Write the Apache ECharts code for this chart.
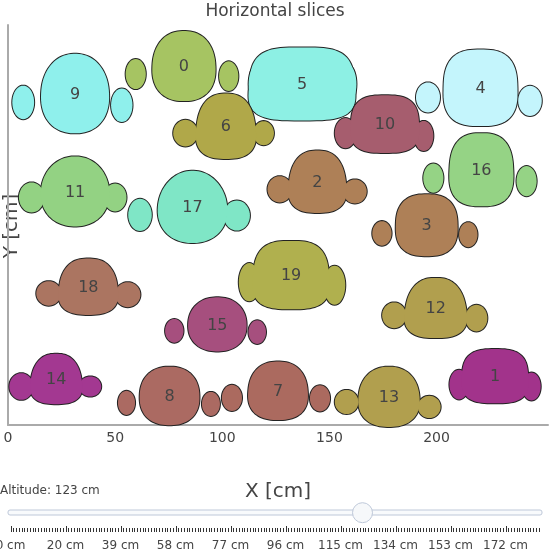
<!DOCTYPE html>
<html>
<head>
<meta charset="utf-8">
<script src="https://cdn.jsdelivr.net/npm/echarts@6/dist/echarts.min.js"></script>
<style>
  html, body { margin: 0; padding: 0; background: #fff; }
  #chart { width: 550px; height: 550px; }
</style>
</head>
<body>
<div id="chart"></div>
<script>
// slice number shown inside each body
var sliceIds   = [0, 1, 2, 3, 4, 5, 6, 7, 8, 9, 10, 11, 12, 13, 14, 15, 16, 17, 18, 19];
// centre and half sizes of the main body of each slice [cm]
var centerX    = [82.1, 227.3, 144.4, 195.4, 220.5, 137.2, 101.7, 126.0, 75.4, 31.3, 175.9, 31.3, 199.6, 177.8, 22.5, 97.7, 220.9, 86.1, 37.5, 132.1];
var centerY    = [166.9, 22.7, 113.1, 92.9, 156.8, 158.6, 138.9, 15.9, 13.5, 154.1, 139.9, 108.6, 54.4, 13.1, 21.4, 46.8, 118.7, 101.4, 64.3, 69.7];
var halfW      = [15.5, 16.3, 15.2, 14.8, 17.7, 26.2, 15.7, 15.0, 14.3, 16.7, 16.8, 16.8, 16.7, 15.4, 13.9, 14.0, 15.7, 17.5, 15.6, 19.2];
var halfH      = [16.3, 12.6, 14.5, 14.4, 17.8, 17.0, 15.2, 13.6, 13.6, 18.5, 13.4, 16.3, 14.0, 14.0, 11.7, 12.6, 17.0, 16.8, 13.1, 15.9];
var squareness = [2.3, 3.0, 2.6, 2.6, 2.8, 3.4, 2.6, 2.4, 2.3, 2.2, 3.0, 2.1, 2.6, 2.3, 2.6, 2.2, 2.7, 2.1, 2.6, 3.0];
var topTaper   = [0.1, 0.1, 0.25, 0.05, 0.05, 0.12, 0.25, 0.15, 0.05, 0.1, 0.1, 0.1, 0.3, 0.15, 0.3, 0.05, 0.1, 0.15, 0.25, 0.15];
// side lobes (centre and radii) [cm]
var leftLobeX  = [59.6, 210.5, 126.8, 174.5, 196.0, 116.5, 82.8, 104.5, 55.3, 7.1, 157.5, 11.0, 180.2, 158.0, 6.2, 77.6, 198.5, 61.6, 19.0, 112.6];
var leftLobeY  = [163.2, 18.8, 109.6, 89.1, 152.3, 158.5, 135.7, 12.6, 10.3, 150.0, 135.7, 105.8, 51.0, 10.7, 17.9, 43.8, 114.8, 97.7, 61.2, 66.4];
var leftLobeRx = [4.7, 4.5, 5.7, 4.5, 5.6, 4.2, 5.7, 4.7, 4.0, 5.1, 5.0, 5.9, 5.6, 5.5, 5.6, 4.3, 4.7, 5.5, 5.8, 4.9];
var leftLobeRy = [7.0, 6.9, 6.1, 5.7, 7.0, 9.3, 6.2, 6.1, 5.6, 7.8, 7.0, 7.0, 6.0, 5.6, 6.2, 5.5, 6.8, 7.5, 5.7, 8.9];
var rightLobeX  = [103.0, 244.3, 161.9, 214.8, 243.6, 158.4, 119.3, 145.6, 94.7, 53.1, 194.0, 50.0, 218.6, 196.6, 38.4, 116.3, 242.0, 106.8, 55.9, 152.4];
var rightLobeY  = [162.2, 17.9, 108.6, 88.5, 150.7, 158.5, 135.7, 12.4, 9.8, 148.7, 134.4, 105.8, 49.7, 8.4, 17.9, 43.2, 113.4, 97.4, 60.6, 65.0];
var rightLobeRx = [4.5, 4.3, 5.5, 4.3, 5.5, 4.2, 4.8, 4.7, 4.2, 5.0, 4.5, 5.3, 5.1, 5.3, 5.1, 4.1, 4.7, 6.1, 5.9, 5.0];
var rightLobeRy = [6.9, 6.5, 5.6, 5.8, 7.0, 9.3, 5.6, 6.1, 5.6, 7.8, 7.0, 6.5, 6.2, 5.2, 4.7, 5.5, 7.0, 7.0, 5.8, 9.1];
var sliceColors = ['#a6c462', '#a2338b', '#ae8057', '#ae8057', '#c4f5fc', '#8df0e4', '#b0a849', '#ab6a5f', '#ab6a62', '#8ff0ec',
                   '#a65d6e', '#93d283', '#b19f4e', '#b19f4e', '#a33891', '#a64f7e', '#95d385', '#7fe6c6', '#ab7561', '#b0b04e'];

// slider
var altitudeLabels = ['0 cm', '20 cm', '39 cm', '58 cm', '77 cm', '96 cm', '115 cm', '134 cm', '153 cm', '172 cm'];
var altitudeText = 'Altitude: 123 cm';
var sliderSteps = 193;
var sliderActive = 128;

var rows = [];
for (var i = 0; i < sliceIds.length; i++) {
  rows.push([sliceIds[i], centerX[i], centerY[i], halfW[i], halfH[i], squareness[i], topTaper[i],
    leftLobeX[i], leftLobeY[i], leftLobeRx[i], leftLobeRy[i],
    rightLobeX[i], rightLobeY[i], rightLobeRx[i], rightLobeRy[i]]);
}

function outline(api, cx, cy, a, b, n, taper, count) {
  var pts = [];
  for (var k = 0; k < count; k++) {
    var t = 2 * Math.PI * k / count;
    var c = Math.cos(t), s = Math.sin(t);
    var x = Math.sign(c) * Math.pow(Math.abs(c), 2 / n);
    var y = Math.sign(s) * Math.pow(Math.abs(s), 2 / n);
    var w = 1 - taper * (y + 1) / 2;
    pts.push(api.coord([cx + a * x * w, cy + b * y]));
  }
  return pts;
}

function renderSlice(params, api) {
  var v = function (d) { return api.value(d); };
  var idx = params.dataIndex;
  var color = sliceColors[idx];
  var parts = [
    outline(api, v(7), v(8), v(9), v(10), 2, 0, 40),
    outline(api, v(11), v(12), v(13), v(14), 2, 0, 40),
    outline(api, v(1), v(2), v(3), v(4), v(5), v(6), 90)
  ];
  var children = [];
  // outline layer, then fill layer on top so only the union's edge shows
  parts.forEach(function (p) {
    children.push({ type: 'polygon', shape: { points: p }, z2: idx * 2,
      style: { fill: color, stroke: '#222', lineWidth: 2 } });
  });
  parts.forEach(function (p) {
    children.push({ type: 'polygon', shape: { points: p }, z2: idx * 2 + 1,
      style: { fill: color, stroke: null } });
  });
  var c = api.coord([v(1), v(2)]);
  children.push({ type: 'text', z2: 100,
    style: { text: String(v(0)), x: c[0], y: c[1] + 1, align: 'center', verticalAlign: 'middle',
      fill: '#444', fontSize: 16, fontFamily: 'DejaVu Sans' } });
  return { type: 'group', children: children };
}

// slider graphics
var trackLeft = 8, trackRight = 542, tickLeft = 10.5, stepPx = 2.75;
var graphics = [
  { type: 'text', left: 0, top: 485, style: { text: altitudeText, fill: '#444', fontSize: 12, fontFamily: 'DejaVu Sans' } },
  { type: 'text', x: 12, y: 226, rotation: Math.PI / 2,
    style: { text: 'Y [cm]', fill: '#444', fontSize: 20, fontFamily: 'DejaVu Sans', align: 'center', verticalAlign: 'middle' } },
  { type: 'rect', shape: { x: trackLeft, y: 510, width: trackRight - trackLeft, height: 5, r: 2 },
    style: { fill: '#f8fafc', stroke: '#bec8d9', lineWidth: 1 } },
  { type: 'circle', shape: { cx: tickLeft + sliderActive * stepPx, cy: 512.7, r: 10 },
    style: { fill: '#f6f8fa', stroke: '#bec8d9', lineWidth: 1 }, z: 10 }
];
for (var k = 0; k < sliderSteps; k++) {
  var x = Math.round(tickLeft + k * stepPx) + 0.5;
  var major = k % 20 === 0;
  graphics.push({ type: 'line', shape: { x1: x, y1: major ? 526 : 528, x2: x, y2: 532 },
    style: { stroke: '#333', lineWidth: 1 } });
}
altitudeLabels.forEach(function (lab, j) {
  graphics.push({ type: 'text', x: tickLeft + j * 20 * stepPx, y: 546,
    style: { text: lab, fill: '#444', fontSize: 12, fontFamily: 'DejaVu Sans', align: 'center', verticalAlign: 'middle' } });
});

var chart = echarts.init(document.getElementById('chart'));
chart.setOption({
  animation: false,
  title: {
    text: 'Horizontal slices', left: 'center', top: -2,
    textStyle: { fontSize: 17, fontWeight: 'normal', color: '#444', fontFamily: 'DejaVu Sans' }
  },
  grid: { left: 8, right: 2, top: 25, bottom: 125, containLabel: false, outerBoundsMode: 'none' },
  xAxis: {
    type: 'value', min: 0, max: 252, interval: 50,
    name: 'X [cm]', nameLocation: 'middle', nameGap: 57,
    nameTextStyle: { fontSize: 20, color: '#444', fontFamily: 'DejaVu Sans' },
    axisLine: { show: true, lineStyle: { color: '#aaa', width: 2 } },
    axisTick: { show: false },
    splitLine: { show: false },
    axisLabel: { fontSize: 14, color: '#444', margin: 6, fontFamily: 'DejaVu Sans',
      formatter: function (val) { return val > 200 ? '' : String(val); } }
  },
  yAxis: {
    type: 'value', min: 0, max: 186,
    axisLine: { show: true, lineStyle: { color: '#aaa', width: 2 } },
    axisTick: { show: false },
    splitLine: { show: false },
    axisLabel: { show: false }
  },
  series: [{
    type: 'custom',
    coordinateSystem: 'cartesian2d',
    renderItem: renderSlice,
    encode: { x: 1, y: 2 },
    clip: false,
    data: rows
  }],
  graphic: graphics
});
</script>
</body>
</html>
